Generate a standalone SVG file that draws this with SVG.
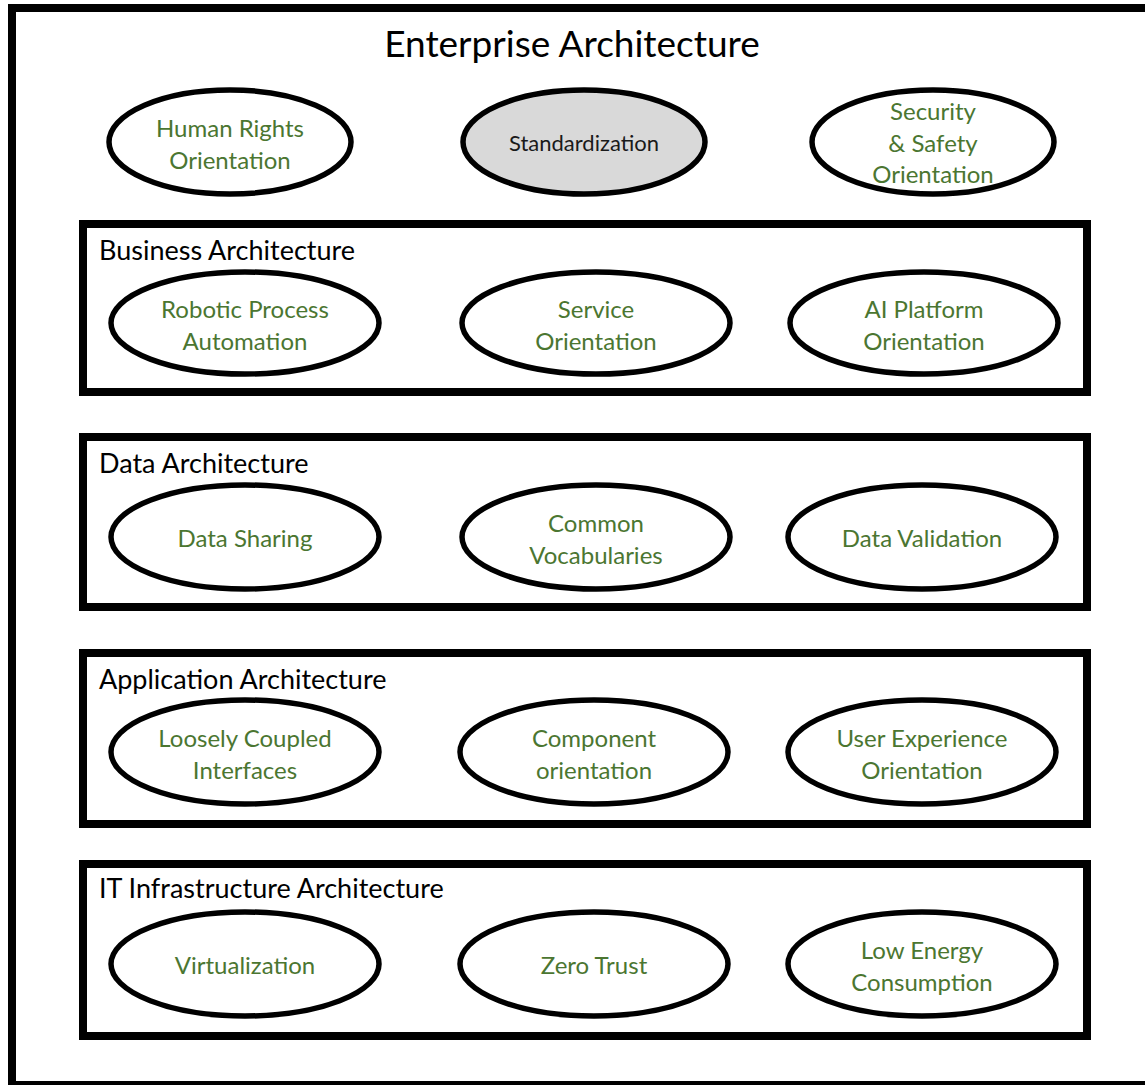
<svg xmlns="http://www.w3.org/2000/svg" width="1145" height="1085" viewBox="0 0 1145 1085">
<style>
.frame{fill:#fff;stroke:#000;stroke-width:8}
.box{fill:none;stroke:#000;stroke-width:8}
.ell{fill:#fff;stroke:#000;stroke-width:5.5}
.grey{fill:#d9d9d9}
.t{font-family:Lato,"Liberation Sans",sans-serif;font-size:24px;fill:#4b7631;text-anchor:middle}
.blk{fill:#1a1a1a;font-size:22px}
.lbl{font-family:Lato,"Liberation Sans",sans-serif;font-size:27px;fill:#000}
.title{font-family:Lato,"Liberation Sans",sans-serif;font-size:37px;fill:#000;text-anchor:middle}
</style>
<rect width="1145" height="1085" fill="#fff"/>
<g id="enterprise">
<rect class="frame" x="12" y="8" width="1145" height="1077"/>
<text class="title" x="572" y="57">Enterprise Architecture</text>
</g>
<g id="business">
<rect class="box" x="83" y="224" width="1004" height="168"/>
<text class="lbl" x="99" y="260">Business Architecture</text>
</g>
<g id="data">
<rect class="box" x="83" y="437" width="1004" height="170"/>
<text class="lbl" x="99" y="473">Data Architecture</text>
</g>
<g id="application">
<rect class="box" x="83" y="653" width="1004" height="171"/>
<text class="lbl" x="99" y="689">Application Architecture</text>
</g>
<g id="infrastructure">
<rect class="box" x="83" y="864" width="1004" height="172"/>
<text class="lbl" x="99" y="898">IT Infrastructure Architecture</text>
</g>
<g id="human-rights">
<ellipse class="ell" cx="230" cy="142" rx="121" ry="52"/>
<text class="t" x="230" y="137">Human Rights</text>
<text class="t" x="230" y="169">Orientation</text>
</g>
<g id="standardization">
<ellipse class="ell grey" cx="584" cy="142" rx="121" ry="52"/>
<text class="t blk" x="584" y="151">Standardization</text>
</g>
<g id="security">
<ellipse class="ell" cx="933" cy="142" rx="121" ry="52"/>
<text class="t" x="933" y="120">Security</text>
<text class="t" x="933" y="152">&amp; Safety</text>
<text class="t" x="933" y="183">Orientation</text>
</g>
<g id="rpa">
<ellipse class="ell" cx="245" cy="323" rx="134" ry="51"/>
<text class="t" x="245" y="318">Robotic Process</text>
<text class="t" x="245" y="350">Automation</text>
</g>
<g id="service">
<ellipse class="ell" cx="596" cy="323" rx="134" ry="51"/>
<text class="t" x="596" y="318">Service</text>
<text class="t" x="596" y="350">Orientation</text>
</g>
<g id="ai-platform">
<ellipse class="ell" cx="924" cy="323" rx="134" ry="51"/>
<text class="t" x="924" y="318">AI Platform</text>
<text class="t" x="924" y="350">Orientation</text>
</g>
<g id="data-sharing">
<ellipse class="ell" cx="245" cy="537" rx="134" ry="52"/>
<text class="t" x="245" y="547">Data Sharing</text>
</g>
<g id="common-vocabularies">
<ellipse class="ell" cx="596" cy="537" rx="134" ry="52"/>
<text class="t" x="596" y="532">Common</text>
<text class="t" x="596" y="564">Vocabularies</text>
</g>
<g id="data-validation">
<ellipse class="ell" cx="922" cy="537" rx="134" ry="52"/>
<text class="t" x="922" y="547">Data Validation</text>
</g>
<g id="loosely-coupled">
<ellipse class="ell" cx="245" cy="752" rx="134" ry="52"/>
<text class="t" x="245" y="747">Loosely Coupled</text>
<text class="t" x="245" y="779">Interfaces</text>
</g>
<g id="component">
<ellipse class="ell" cx="594" cy="752" rx="134" ry="52"/>
<text class="t" x="594" y="747">Component</text>
<text class="t" x="594" y="779">orientation</text>
</g>
<g id="user-experience">
<ellipse class="ell" cx="922" cy="752" rx="134" ry="52"/>
<text class="t" x="922" y="747">User Experience</text>
<text class="t" x="922" y="779">Orientation</text>
</g>
<g id="virtualization">
<ellipse class="ell" cx="245" cy="964" rx="134" ry="52"/>
<text class="t" x="245" y="974">Virtualization</text>
</g>
<g id="zero-trust">
<ellipse class="ell" cx="594" cy="964" rx="134" ry="52"/>
<text class="t" x="594" y="974">Zero Trust</text>
</g>
<g id="low-energy">
<ellipse class="ell" cx="922" cy="964" rx="134" ry="52"/>
<text class="t" x="922" y="959">Low Energy</text>
<text class="t" x="922" y="991">Consumption</text>
</g>
<g id="connectors"/>
</svg>
